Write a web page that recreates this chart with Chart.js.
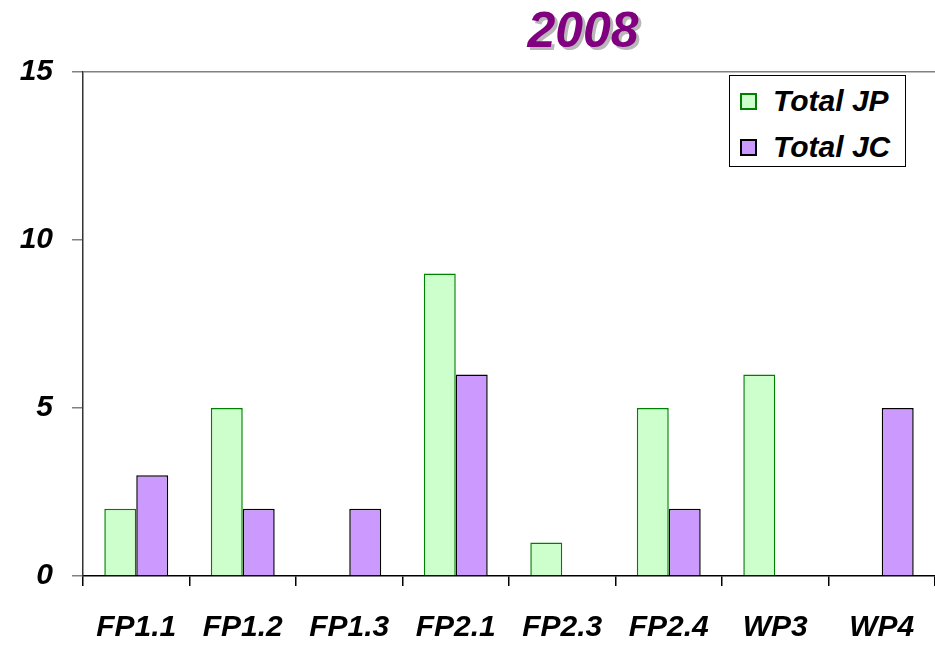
<!DOCTYPE html>
<html>
<head>
<meta charset="utf-8">
<script src="https://cdn.jsdelivr.net/npm/chart.js@4.4.0/dist/chart.umd.min.js"></script>
<style>
  html, body { margin: 0; padding: 0; background: #fff; }
  #wrap { position: relative; width: 935px; height: 647px; overflow: hidden; }
  #title {
    position: absolute; left: 483px; top: 1px; width: 200px; text-align: center;
    font: italic bold 50px "Liberation Sans", Arial, sans-serif; color: #800080;
    text-shadow: 3px 3px 0 #b8b8b8;
  }
  #legend {
    position: absolute; left: 729px; top: 75px; width: 177px; height: 92px;
    border: 1px solid #000; background: #fff; box-sizing: border-box;
    font: italic bold 30px "Liberation Sans", Arial, sans-serif; color: #000;
  }
  .row { position: absolute; left: 10px; height: 32px; line-height: 32px; white-space: nowrap; }
  .sw { display: inline-block; width: 17px; height: 17px; box-sizing: border-box; margin-right: 16px; vertical-align: middle; position: relative; top: -2px; }
</style>
</head>
<body>
<div id="wrap">
  <canvas id="c" width="935" height="647"></canvas>
  <div id="title">2008</div>
  <div id="legend">
    <div class="row" style="top:9px"><span class="sw" style="background:#ccffcc;border:2px solid #008000"></span>Total JP</div>
    <div class="row" style="top:55px"><span class="sw" style="background:#cc99ff;border:2px solid #000"></span>Total JC</div>
  </div>
</div>
<script>
const categories = ['FP1.1', 'FP1.2', 'FP1.3', 'FP2.1', 'FP2.3', 'FP2.4', 'WP3', 'WP4'];
const totalJP = [2, 5, null, 9, 1, 5, 6, null];
const totalJC = [3, 2, 2, 6, null, 2, null, 5];
const yTicks = [0, 5, 10, 15];

const font = { family: '"Liberation Sans", Arial, sans-serif', size: 30, style: 'italic', weight: 'bold' };

new Chart(document.getElementById('c'), {
  type: 'bar',
  data: {
    labels: categories,
    datasets: [
      { label: 'Total JP', data: totalJP, backgroundColor: '#ccffcc', borderColor: '#008000', borderWidth: 1.5 },
      { label: 'Total JC', data: totalJC, backgroundColor: '#cc99ff', borderColor: '#000000', borderWidth: 1.5 },
    ],
  },
  options: {
    responsive: false,
    animation: false,
    layout: { padding: { top: 72, right: 0, left: 0, bottom: 0 } },
    datasets: { bar: { categoryPercentage: 0.6, barPercentage: 1 } },
    plugins: { legend: { display: false }, title: { display: false }, tooltip: { enabled: false } },
    scales: {
      x: {
        offset: true,
        border: { display: true, color: '#000', width: 1.5 },
        grid: { drawOnChartArea: false, drawTicks: true, tickLength: 10, tickColor: '#000', lineWidth: 1.5, offset: true },
        ticks: { color: '#000', font, padding: 24, maxRotation: 0, autoSkip: false },
        afterFit: (s) => { s.height = 71; s.paddingLeft = 0; s.paddingRight = 0; },
      },
      y: {
        min: 0,
        max: 15,
        border: { display: true, color: '#333', width: 1.5 },
        afterBuildTicks: (s) => { s.ticks = yTicks.map((v) => ({ value: v })); },
        grid: {
          drawTicks: true,
          tickLength: 11,
          tickColor: '#808080',
          lineWidth: 1.5,
          color: (ctx) => (ctx.tick && ctx.tick.value === 15 ? '#808080' : 'rgba(0,0,0,0)'),
        },
        ticks: { color: '#000', font, padding: 19 },
        afterFit: (s) => { s.width = 83; s.paddingTop = 0; s.paddingBottom = 0; },
      },
    },
  },
});
</script>
</body>
</html>
